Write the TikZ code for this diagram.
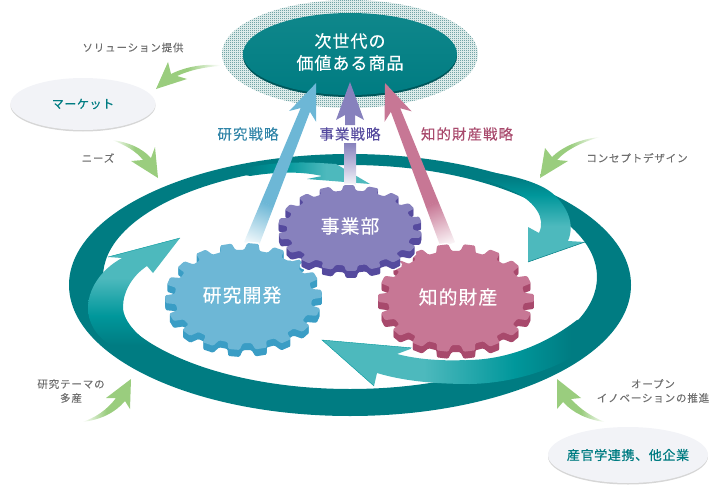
\documentclass[tikz,border=0pt]{standalone}
\usepackage{fontspec}
\usetikzlibrary{calc}
\setmainfont{Noto Sans CJK JP}
\newfontfamily\jpg[LetterSpace=8,FakeBold=0.12]{Noto Sans CJK JP}
\newfontfamily\jpm[LetterSpace=7,FakeBold=0.12]{Noto Sans CJK JP}
\newfontfamily\jpw[LetterSpace=6,FakeBold=0.45]{Noto Sans CJK JP}
\newfontfamily\jpb[LetterSpace=5,FakeBold=0.5]{Noto Sans CJK JP}
\definecolor{ringc}{HTML}{007C82}
\definecolor{tmid}{HTML}{00979B}
\definecolor{tlight}{HTML}{4DB9BD}
\definecolor{gr}{HTML}{9ACD7E}
\definecolor{bluec}{HTML}{6DB7D6}
\definecolor{blued}{HTML}{3A9DC5}
\definecolor{purc}{HTML}{8781BD}
\definecolor{purd}{HTML}{554A9E}
\definecolor{pinkc}{HTML}{C77795}
\definecolor{pinkd}{HTML}{A8496C}
\definecolor{labg}{HTML}{6F6F6F}
\definecolor{ovalc}{HTML}{F2F3F7}
\definecolor{ovaltop}{HTML}{0F878B}
\definecolor{halobg}{HTML}{DDEBEA}
\definecolor{halodot}{HTML}{73A5A6}
\pgfdeclareverticalshading{tealA}{100bp}{color(0bp)=(ringc);color(35bp)=(ringc);color(46bp)=(tmid);color(60bp)=(tlight);color(100bp)=(tlight)}
\pgfdeclareverticalshading{tealC}{100bp}{color(0bp)=(tlight);color(45bp)=(tlight);color(62bp)=(tmid);color(72bp)=(ringc);color(100bp)=(ringc)}
\pgfdeclarehorizontalshading{tealD}{100bp}{color(0bp)=(tlight);color(43bp)=(tlight);color(59bp)=(tmid);color(69bp)=(ringc);color(100bp)=(ringc)}
\pgfdeclarehorizontalshading{tealB}{100bp}{color(0bp)=(ringc);color(30bp)=(ringc);color(44bp)=(tmid);color(59bp)=(tlight);color(100bp)=(tlight)}
\pgfdeclarehorizontalshading{greenL}{100bp}{color(0bp)=(white);color(25bp)=(white);color(50bp)=(gr);color(100bp)=(gr)}
\pgfdeclarehorizontalshading{greenR}{100bp}{color(0bp)=(gr);color(50bp)=(gr);color(75bp)=(white);color(100bp)=(white)}
\pgfdeclareverticalshading{topoval}{100bp}{color(0bp)=(ringc);color(25bp)=(ringc);color(75bp)=(ovaltop);color(100bp)=(ovaltop)}
\tikzset{
  graylab/.style={font=\jpg\fontsize{10.5}{14}\selectfont,text=labg,align=center,inner sep=0pt},
  strat/.style={font=\jpm\fontsize{14.5}{16}\selectfont,inner sep=0pt},
  gearlab/.style={font=\jpw\fontsize{18.8}{20}\selectfont,text=white,inner sep=0pt},
  ovallab/.style={font=\jpb\fontsize{#1}{#1}\selectfont,text=ringc,inner sep=0pt}
}
% gear outline: #1 cx, #2 cy, #3 rx, #4 ry, #5 phase
\newcommand{\buildgear}[5]{%
  \gdef\gearpts{}%
  \foreach \k in {0,...,17}{%
    \pgfmathsetmacro{\ta}{#5+20*\k-6.3}%
    \pgfmathsetmacro{\tb}{#5+20*\k-4.2}%
    \pgfmathsetmacro{\tc}{#5+20*\k+4.2}%
    \pgfmathsetmacro{\td}{#5+20*\k+6.3}%
    \pgfmathsetmacro{\ax}{#1+0.875*#3*cos(\ta)}\pgfmathsetmacro{\ay}{#2-0.875*#4*sin(\ta)}%
    \pgfmathsetmacro{\bx}{#1+#3*cos(\tb)}\pgfmathsetmacro{\by}{#2-#4*sin(\tb)}%
    \pgfmathsetmacro{\cx}{#1+#3*cos(\tc)}\pgfmathsetmacro{\cy}{#2-#4*sin(\tc)}%
    \pgfmathsetmacro{\dx}{#1+0.875*#3*cos(\td)}\pgfmathsetmacro{\dy}{#2-0.875*#4*sin(\td)}%
    \xdef\gearpts{\gearpts (\ax,\ay) -- (\bx,\by) -- (\cx,\cy) -- (\dx,\dy) -- }%
  }%
}
\newcommand{\drawgear}[7]{% cx cy rx ry phase face dark
  \buildgear{#1}{#2}{#3}{#4}{#5}%
  \edef\tmpgear{\noexpand\path[rounded corners=1.2pt,draw=white,line width=3pt,fill=white] \gearpts cycle;}%
  \begin{scope}[yshift=-7pt]\tmpgear\end{scope}
  \tmpgear
  \edef\tmpface{\noexpand\path[rounded corners=1.2pt,fill=#7] \gearpts cycle;}%
  \foreach \d in {7,6,5,4,3,2,1}{\begin{scope}[yshift=-\d pt]\tmpface\end{scope}}
  \edef\tmpface{\noexpand\path[rounded corners=1.2pt,fill=#6] \gearpts cycle;}%
  \tmpface
}
% strategic arrow: base x, base y, angle, length, colour
\newcommand{\fadearrow}[5]{%
  \begin{scope}[transform canvas={shift={(#1,#2)},rotate=#3}]
    \pgfmathsetmacro{\nn}{#4-29}\pgfmathsetmacro{\bb}{#4-36}
    \fill[#5] (44,-6.8) -- (\nn,-5) -- (\bb,-14.5) -- (#4,0) -- (\bb,14.5) -- (\nn,5) -- (44,6.8) -- cycle;
    \shade[left color=#5!6!white,right color=#5] (0,-7.6) -- (44.3,-6.8) -- (44.3,6.8) -- (0,7.6) -- cycle;
  \end{scope}
}
\begin{document}
\begin{tikzpicture}[x=1pt,y=-1pt]
\useasboundingbox (0,0) rectangle (720,487);
% top halo and oval
\begin{scope}
\clip (350,54) ellipse[x radius=128pt,y radius=54pt];
\fill[halobg] (222,0) rectangle (478,108);
\foreach \yy in {0.5,2.5,...,108.5}{
  \draw[halodot,line width=1pt,dash pattern=on 1pt off 1pt] (222,\yy) -- (478,\yy);
}
\end{scope}
\fill[ringc!70!black] (350,56) ellipse[x radius=107pt,y radius=41pt];
\shade[shading=topoval] (350,54) ellipse[x radius=107pt,y radius=41pt];
% ring
\fill[ringc,even odd rule] (350,285) ellipse[x radius=281pt,y radius=131pt] (350,277) ellipse[x radius=247pt,y radius=112pt];
% ring arrows
\shade[shading=tealB] (232,172) .. controls (250,165) and (285,161) .. (320,163) -- (336,164) -- (370,184) -- (307,179) -- (322,176) .. controls (300,171) and (275,172) .. (250,176) -- cycle;
\shade[shading=tealC] (490,172) .. controls (515,176) and (540,183) .. (552,193) .. controls (565,204) and (576,222) .. (568,241) -- (585,242) -- (528,262) -- (528,227) -- (539,233) .. controls (546,218) and (535,203) .. (517,193) .. controls (505,187) and (492,182) .. (478,178) -- cycle;
\draw[ringc,line width=.5pt] (585,242) -- (528,262);
\shade[shading=tealD] (590,318) -- (577,320) .. controls (545,345) and (505,360) .. (467,360) .. controls (445,361) and (420,360) .. (397,354) -- (413,348) -- (322,340) -- (374,386) -- (377,373) .. controls (400,380) and (430,384) .. (470,384) .. controls (520,383) and (570,365) .. (605,335) -- cycle;
\draw[tmid,line width=.4pt] (413,348) -- (322,340) -- (374,386);
\shade[shading=tealA] (110,345) .. controls (95,335) and (88,322) .. (88,308) .. controls (88,290) and (100,270) .. (122,258) -- (108,257) -- (180,238) -- (153,273) -- (147,266) .. controls (132,276) and (123,292) .. (123,307) .. controls (123,322) and (140,340) .. (165,352) -- (210,372) -- cycle;
\draw[tmid,line width=.4pt] (108,257) -- (180,238);
% strategic arrows
\fadearrow{251}{245}{68.1}{174.6}{bluec}
\fadearrow{448}{245}{111.25}{173.8}{pinkc}
\fill[purc] (345,125) -- (345,115) -- (336,120) -- (350,82) -- (364,120) -- (355,115) -- (355,125) -- cycle;
\shade[top color=purc,bottom color=purc!6!white] (344,143) rectangle (356,186);
% gears
\drawgear{243.5}{296.5}{78.5}{53.5}{83}{bluec}{blued}
\drawgear{456}{298}{78}{54}{80}{pinkc}{pinkd}
\drawgear{350}{228}{72}{43}{91}{purc}{purd}
% green arrows
\shade[shading=greenR] (220,65) .. controls (205,64) and (187,66) .. (171,74) -- (168,62) -- (156,89) -- (187,79) -- (177,76) .. controls (190,70) and (205,67) .. (220,66) -- cycle;
\shade[shading=greenL] (112,140) .. controls (128,142) and (142,148) .. (151,158) -- (155,147) -- (158,178) -- (131,161) -- (143,160) .. controls (136,151) and (125,145) .. (112,140) -- cycle;
\shade[shading=greenR] (600,137) .. controls (580,139) and (562,147) .. (552,157) -- (545,148) -- (540,178) -- (568,161) -- (557,160) .. controls (566,150) and (582,142) .. (600,137) -- cycle;
\shade[shading=greenL] (82,422) .. controls (95,418) and (107,410) .. (116,398) -- (106,398) -- (131,379) -- (130,409) -- (125,401) .. controls (115,413) and (100,420) .. (82,422) -- cycle;
\shade[shading=greenR] (605,422) .. controls (592,417) and (580,409) .. (571,399) -- (581,398) -- (557,379) -- (557,409) -- (563,402) .. controls (573,413) and (588,420) .. (605,422) -- cycle;
% side ovals
\fill[black!16] (83,105.5) ellipse[x radius=72.5pt,y radius=26pt];
\fill[ovalc] (83,104) ellipse[x radius=72.5pt,y radius=26pt];
\fill[black!16] (628,456.5) ellipse[x radius=80pt,y radius=28pt];
\fill[ovalc] (628,455) ellipse[x radius=80pt,y radius=28pt];
% texts
\node[font=\jpw\fontsize{17}{22}\selectfont,text=white,align=center,inner sep=0pt] (goal) at (350,52) {次世代の\\価値ある商品};
\node[ovallab=12] (market) at (83,104) {マーケット};
\node[ovallab=13] (partners) at (628,455) {産官学連携、他企業};
\node[graylab] (lsol) at (133,47.5) {ソリューション提供};
\node[graylab] (lneeds) at (98,158) {ニーズ};
\node[graylab] (lconcept) at (637,158) {コンセプトデザイン};
\node[graylab] (lseeds) at (71,391) {研究テーマの\\多産};
\node[graylab] (lopen) at (653,391) {オープン\\イノベーションの推進};
\node[strat,text=blued!85!black] (sres) at (248,134) {研究戦略};
\node[strat,text=purd] (sbiz) at (350,134) {事業戦略};
\node[strat,text=pinkd] (sip) at (467,134) {知的財産戦略};
\node[gearlab] (gres) at (242,295) {研究開発};
\node[gearlab] (gbiz) at (350,226) {事業部};
\node[gearlab] (gip) at (458,297) {知的財産};
\end{tikzpicture}
\end{document}
